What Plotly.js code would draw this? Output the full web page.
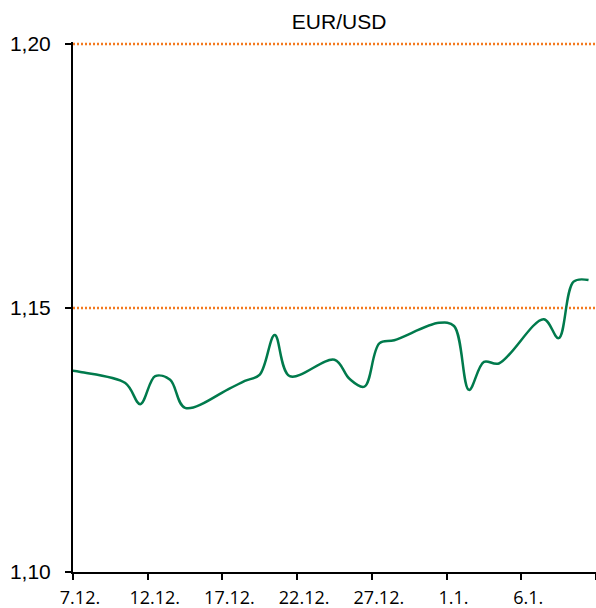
<!DOCTYPE html>
<html>
<head>
<meta charset="utf-8">
<script src="https://cdn.plot.ly/plotly-3.0.1.min.js"></script>
<style>
  html, body { margin: 0; padding: 0; background: #ffffff; }
  #chart { width: 596px; height: 608px; }
</style>
</head>
<body>
<div id="chart"></div>
<script>
// Trading days (EUR/USD)
const dates = ['2018-12-06','2018-12-07','2018-12-10','2018-12-11','2018-12-12','2018-12-13','2018-12-14',
  '2018-12-17','2018-12-18','2018-12-19','2018-12-20','2018-12-21','2018-12-24','2018-12-25','2018-12-26',
  '2018-12-27','2018-12-28','2018-12-31','2019-01-01','2019-01-02','2019-01-03','2019-01-04',
  '2019-01-07','2019-01-08','2019-01-09','2019-01-10'];
const rates = [1.1383, 1.1379, 1.1358, 1.1318, 1.1371, 1.1364, 1.1311,
  1.1348, 1.1362, 1.1374, 1.1449, 1.1371, 1.1402, 1.1366, 1.1351,
  1.1433, 1.1439, 1.1472, 1.1466, 1.1345, 1.1398, 1.1395,
  1.1479, 1.1443, 1.1550, 1.1553];
const tickDates = ['2018-12-07','2018-12-12','2018-12-17','2018-12-22','2018-12-27','2019-01-01','2019-01-06','2019-01-11'];
const tickLabels = ['7.12.','12.12.','17.12.','22.12.','27.12.','1.1.','6.1.',''];
const yTicks = [1.10, 1.15, 1.20];
const gridLevels = [1.15, 1.20];
const chartTitle = 'EUR/USD';

// each daily value is drawn at the middle of its day
const xMid = dates.map(d => d + ' 12:00');

const trace = {
  x: xMid, y: rates, type: 'scatter', mode: 'lines',
  line: { color: '#007A4C', width: 2.5, shape: 'spline', smoothing: 1 },
  hoverinfo: 'skip'
};

const gridShapes = gridLevels.map(v => ({
  type: 'line', xref: 'paper', x0: 0, x1: 1, yref: 'y', y0: v, y1: v,
  line: { color: '#F47A1F', width: 2.5, dash: '2px,2px' },
  layer: 'below'
}));

const layout = {
  width: 596, height: 608,
  margin: { l: 73, r: 0, t: 42, b: 36, pad: 0 },
  paper_bgcolor: '#ffffff', plot_bgcolor: '#ffffff',
  separators: ', ',
  showlegend: false,
  shapes: gridShapes,
  title: {
    text: chartTitle,
    font: { family: 'Liberation Sans, Arial, sans-serif', size: 21, color: '#000000' },
    xref: 'container', x: 0.569, xanchor: 'center',
    yref: 'container', y: 0.964, yanchor: 'middle'
  },
  xaxis: {
    type: 'date',
    range: ['2018-12-07', '2019-01-11'],
    tickmode: 'array', tickvals: tickDates, ticktext: tickLabels,
    ticks: 'outside', ticklen: 6, tickwidth: 2, tickcolor: '#000000',
    showline: true, linecolor: '#000000', linewidth: 2,
    showgrid: false, zeroline: false,
    ticklabelshift: 7, ticklabelstandoff: 2,
    tickfont: { family: 'Open Sans, Liberation Sans, sans-serif', size: 18, color: '#000000' },
    fixedrange: true
  },
  yaxis: {
    range: [1.10, 1.2004],
    tickmode: 'array', tickvals: yTicks,
    tickformat: '.2f',
    ticks: 'outside', ticklen: 6, tickwidth: 2, tickcolor: '#000000',
    showline: true, linecolor: '#000000', linewidth: 2,
    showgrid: false, zeroline: false,
    ticklabelstandoff: 10,
    tickfont: { family: 'Liberation Sans, Arial, sans-serif', size: 21, color: '#000000' },
    fixedrange: true
  }
};

Plotly.newPlot('chart', [trace], layout, { displayModeBar: false, staticPlot: true });
</script>
</body>
</html>
